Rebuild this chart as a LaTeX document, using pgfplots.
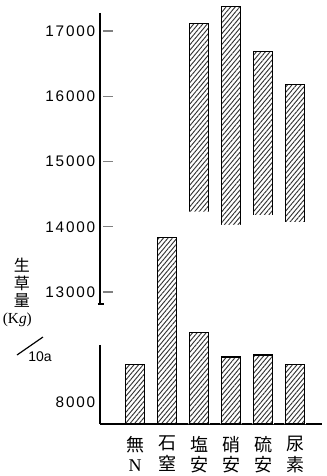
\documentclass[border=0pt]{standalone}
\usepackage{pgfplots}
\pgfplotsset{compat=1.18}
\usetikzlibrary{patterns.meta}
\usepackage{fontspec}
\setmainfont{Liberation Sans}
\newfontfamily\jp{Noto Sans CJK JP}
\newfontfamily\serif{Liberation Serif}
\newfontfamily\tickfont[LetterSpace=12]{Liberation Sans}
\begin{document}
\begin{tikzpicture}
\begin{axis}[
  at={(0,0)}, anchor=south west,
  scale only axis, width=166.5pt, height=318pt,
  xmin=-1.094, xmax=5.84, ymin=10977, ymax=17475,
  axis x line=bottom, axis y line=left,
  axis line style={-},
  x axis line style={line width=0.8pt},
  y axis line style={draw=none},
  xtick={0,1,2,3,4,5},
  xticklabels={{無\\{\serif N}},{石\\窒},{塩\\安},{硝\\安},{硫\\安},{尿\\素}},
  xticklabel style={align=center, font=\jp\fontsize{13.5}{15.5}\selectfont, yshift=2pt},
  x tick style={draw=none},
  ytick={13000,14000,15000,16000,17000},
  scaled y ticks=false,
  yticklabel style={font=\tickfont\fontsize{11.5}{12}\selectfont},
  /pgf/number format/assume math mode=true,
  /pgf/number format/set thousands separator={},
  tick align=inside, major tick length=7.5pt,
  ytick style={line width=0.8pt, xshift=2.25pt},
  extra y ticks={11314}, extra y tick labels={8000},
  extra y tick style={major tick length=0pt},
  ybar, bar width=13.9pt, bar shift=0pt,
]
% upper pieces of the broken bars (drawn full, gap blanked below)
\addplot[draw=black, line width=0.9pt,
  pattern={Lines[angle=50,distance=2.6pt,line width=0.7pt]}, pattern color=black!80]
  coordinates {(2,17120) (3,17380) (4,16680) (5,16180)};
% gap (break) of the broken bars
\addplot[draw=none, fill=white, bar width=16pt]
  coordinates {(2,14230) (3,14030) (4,14180) (5,14070)};
% lower parts, read on the lower (8000) scale
\addplot[draw=black, line width=0.9pt, y filter/.expression={y+3314},
  pattern={Lines[angle=50,distance=2.6pt,line width=0.7pt]}, pattern color=black!80]
  coordinates {(0,8580) (2,9070) (3,8690) (4,8720) (5,8580)};
% 石窒, read on the upper scale
\addplot[draw=black, line width=0.9pt,
  pattern={Lines[angle=50,distance=2.6pt,line width=0.7pt]}, pattern color=black!80]
  coordinates {(1,13840)};
\coordinate (uTop) at (axis cs:-1.094,17276);
\coordinate (uBot) at (axis cs:-1.094,12816);
\coordinate (lTop) at (axis cs:-1.094,12188);
\coordinate (lBot) at (axis cs:-1.094,10977);
\end{axis}
\draw[line width=0.9pt] (uTop) -- (uBot);
\draw[line width=0.9pt] ([xshift=-1.5pt]uBot) -- ([xshift=3pt]uBot);
\draw[line width=0.9pt] (lTop) -- (lBot);
% y label
\node[font=\jp\fontsize{12}{12}\selectfont] at (-58.5pt,119.25pt) {生};
\node[font=\jp\fontsize{12}{12}\selectfont] at (-58.5pt,105.75pt) {草};
\node[font=\jp\fontsize{12}{12}\selectfont] at (-58.5pt,93pt) {量};
\node[font=\serif\fontsize{11.5}{12}\selectfont] at (-62pt,78pt) {(K\textit{g})};
\draw[line width=0.9pt] (-62.25pt,51.75pt) -- (-42.75pt,65.25pt);
\node[font=\fontsize{10.5}{12}\selectfont] at (-45pt,50.25pt) {10a};
\pgfresetboundingbox
\useasboundingbox (-75pt,-39pt) rectangle (170.25pt,318pt);
\end{tikzpicture}
\end{document}
